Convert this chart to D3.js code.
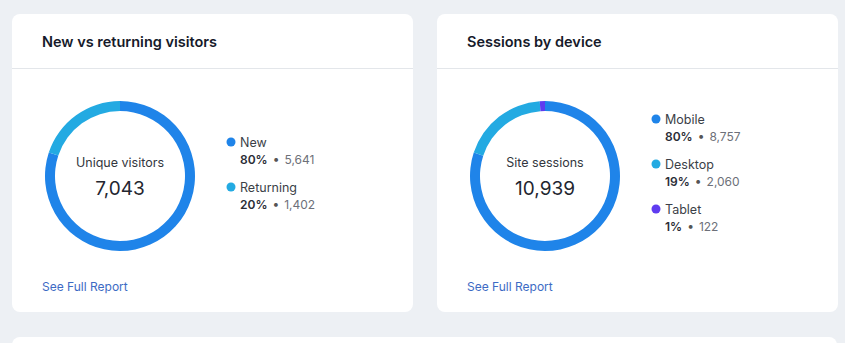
<!DOCTYPE html>
<html>
<head>
<meta charset="utf-8">
<script src="https://cdn.jsdelivr.net/npm/d3@7"></script>
<style>
  html, body { margin: 0; padding: 0; background: #edf0f4; }
  svg { display: block; font-family: Inter, "Open Sans", sans-serif; }
</style>
</head>
<body>
<svg id="chart"></svg>
<script>
const width = 845, height = 343;

// Card 1 data
const visitorLabels = ["New", "Returning"];
const visitorValues = [5641, 1402];
const visitorPercents = ["80%", "20%"];
const visitorTotal = "7,043";

// Card 2 data
const deviceLabels = ["Mobile", "Desktop", "Tablet"];
const deviceValues = [8757, 2060, 122];
const devicePercents = ["80%", "19%", "1%"];
const deviceTotal = "10,939";

const sliceColors = ["#1f84e9", "#23aae2", "#5f3cf0"];

const svg = d3.select("#chart")
    .attr("width", width)
    .attr("height", height);

const cards = [
    { x: 12, title: "New vs returning visitors", center: "Unique visitors", total: visitorTotal,
      labels: visitorLabels, values: visitorValues, pcts: visitorPercents, legendX: 230, legendY: 142 },
    { x: 437, title: "Sessions by device", center: "Site sessions", total: deviceTotal,
      labels: deviceLabels, values: deviceValues, pcts: devicePercents, legendX: 655, legendY: 119 }
];

// bottom card peeking in
svg.append("rect")
    .attr("x", 12).attr("y", 337)
    .attr("width", 825).attr("height", 40)
    .attr("rx", 8)
    .attr("fill", "#fff");

const pie = d3.pie().sort(null).value(d => d);
const arc = d3.arc().innerRadius(65).outerRadius(75);

cards.forEach(c => {
    const g = svg.append("g").attr("transform", `translate(${c.x},14)`);

    g.append("rect")
        .attr("width", 401).attr("height", 298)
        .attr("rx", 8)
        .attr("fill", "#fff");

    g.append("line")
        .attr("x1", 0).attr("x2", 401)
        .attr("y1", 54.5).attr("y2", 54.5)
        .attr("stroke", "#e3e6ea");

    g.append("text")
        .attr("x", 30).attr("y", 33)
        .attr("font-size", 14.5)
        .attr("font-weight", 600)
        .attr("fill", "#161a2a")
        .text(c.title);

    // donut
    const donut = g.append("g").attr("transform", "translate(108,162)");
    donut.selectAll("path")
        .data(pie(c.values))
        .join("path")
        .attr("d", arc)
        .attr("fill", (d, i) => sliceColors[i]);

    donut.append("text")
        .attr("y", -9)
        .attr("text-anchor", "middle")
        .attr("font-size", 12.5)
        .attr("fill", "#333740")
        .text(c.center);

    donut.append("text")
        .attr("y", 19)
        .attr("text-anchor", "middle")
        .attr("font-size", 19)
        .attr("fill", "#23262f")
        .text(c.total);

    // legend
    const lg = svg.append("g");
    c.labels.forEach((lab, i) => {
        const y = c.legendY + i * 45;
        lg.append("circle")
            .attr("cx", c.legendX + 1).attr("cy", y)
            .attr("r", 4.5)
            .attr("fill", sliceColors[i]);
        lg.append("text")
            .attr("x", c.legendX + 10).attr("y", y + 4.5)
            .attr("font-size", 12.5)
            .attr("fill", "#3b3f48")
            .text(lab);
        const t = lg.append("text")
            .attr("x", c.legendX + 10).attr("y", y + 22)
            .attr("font-size", 12);
        t.append("tspan").attr("font-weight", 600).attr("fill", "#2a2d36").text(c.pcts[i]);
        t.append("tspan").attr("fill", "#555").attr("dx", 5).text("•");
        t.append("tspan").attr("fill", "#6d7079").attr("dx", 5).text(d3.format(",")(c.values[i]));
    });

    g.append("text")
        .attr("x", 30).attr("y", 277)
        .attr("font-size", 12)
        .attr("fill", "#3d6bc4")
        .text("See Full Report");
});
</script>
</body>
</html>
